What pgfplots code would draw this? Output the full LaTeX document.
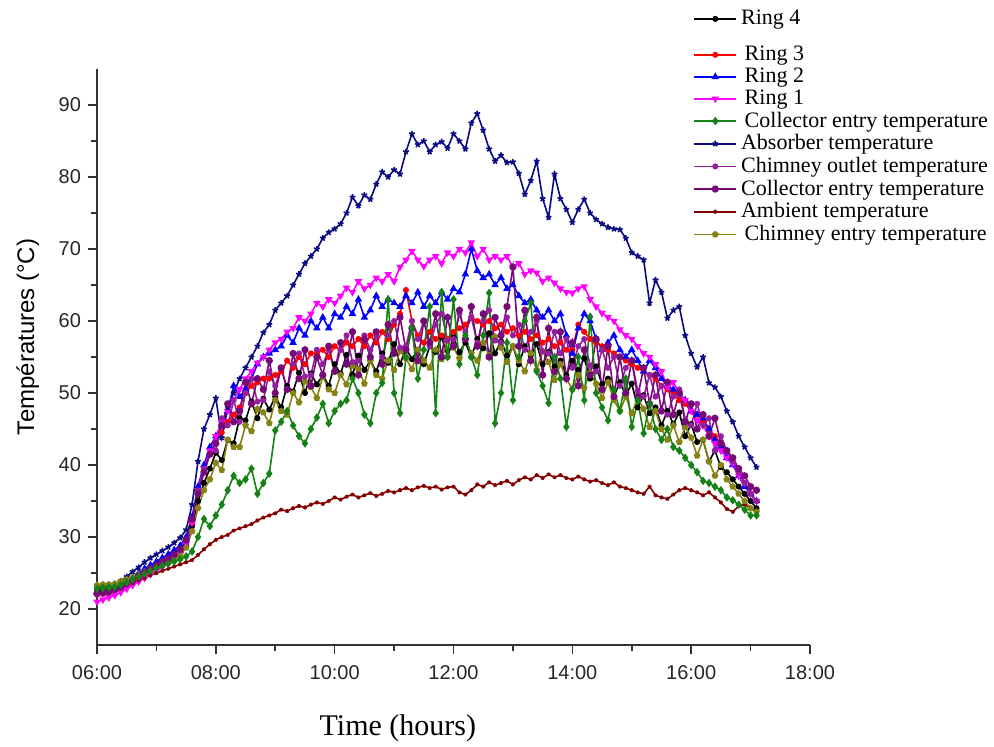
\documentclass[border=0pt]{standalone}
\usepackage{pgfplots}
\pgfplotsset{compat=1.18}
\usepackage{pgfplotstable}
\usepackage{fontspec}
\setmainfont{Liberation Serif}
\setsansfont{Liberation Sans}
\definecolor{cgreen}{RGB}{20,130,20}
\definecolor{cnavy}{RGB}{10,10,130}
\definecolor{cpurp}{RGB}{150,30,160}
\definecolor{cpurp2}{RGB}{120,10,120}
\definecolor{camb}{RGB}{130,0,0}
\definecolor{colive}{RGB}{135,130,20}
\definecolor{cmag}{RGB}{255,0,255}
\pgfplotstableread{
t R4 R3 R2 R1 CE AB CO CEB AM CH
6.0 22.5 22.0 22.3 21.0 22.8 23.0 22.0 22.2 22.3 23.3
6.1 22.6 22.1 22.4 21.3 22.9 23.1 22.1 22.3 22.4 23.4
6.2 22.7 22.2 22.6 21.6 23.0 23.2 22.3 22.4 22.5 23.4
6.3 22.9 22.5 22.9 21.9 23.1 23.5 22.6 22.7 22.7 23.5
6.4 23.2 22.9 23.3 22.3 23.4 23.9 23.0 23.0 23.0 23.8
6.5 23.6 23.3 23.8 22.8 23.7 24.5 23.5 23.5 23.3 24.1
6.6 24.1 23.8 24.4 23.3 24.1 25.2 24.0 24.0 23.6 24.4
6.7 24.6 24.3 25.0 23.8 24.5 25.8 24.6 24.6 24.0 24.8
6.8 25.1 24.8 25.6 24.3 24.9 26.5 25.1 25.1 24.3 25.2
6.9 25.5 25.3 26.1 24.8 25.3 27.1 25.6 25.6 24.7 25.6
7.0 26.0 25.8 26.6 25.3 25.7 27.6 26.1 26.1 25.0 26.0
7.1 26.4 26.2 27.1 25.8 26.0 28.1 26.5 26.6 25.3 26.3
7.2 26.8 26.7 27.6 26.3 26.3 28.6 27.0 27.0 25.6 26.6
7.3 27.3 27.3 28.2 26.9 26.6 29.2 27.5 27.6 25.9 27.0
7.4 27.9 28.0 28.8 27.6 26.9 29.9 28.2 28.3 26.2 27.5
7.5 29.0 29.3 30.0 29.0 27.3 31.0 29.5 29.6 26.5 28.5
7.6 31.5 32.0 32.8 32.0 28.0 34.5 32.5 32.5 26.8 30.8
7.7 35.0 36.0 37.0 36.5 30.0 40.5 36.5 36.0 27.5 34.0
7.8 37.5 39.0 40.0 39.5 32.5 45.0 39.5 39.0 28.3 36.5
7.9 39.5 41.5 42.5 42.0 31.5 47.0 41.5 41.5 29.0 38.0
8.0 41.7 43.0 44.0 44.0 33.0 49.3 42.0 43.0 29.6 40.3
8.1 40.7 44.5 45.5 46.0 34.5 43.8 46.5 45.5 30.0 39.3
8.2 43.5 46.0 47.5 47.5 36.5 48.0 45.5 48.5 30.3 43.5
8.3 43.0 47.0 51.0 49.0 38.5 50.0 49.0 46.0 30.9 42.5
8.4 46.5 48.0 49.5 50.5 37.5 52.0 46.0 47.5 31.2 42.5
8.5 46.2 50.0 50.5 52.0 38.0 53.5 50.0 51.5 31.5 45.5
8.6 48.8 51.0 52.0 53.0 39.5 55.0 52.0 48.5 31.8 44.7
8.7 46.5 51.5 54.0 54.2 36.0 56.5 48.8 52.0 32.3 47.8
8.8 49.2 52.0 55.0 55.0 37.5 58.4 49.0 50.5 32.7 47.3
8.9 47.7 52.0 55.5 56.0 38.8 59.5 53.0 54.5 33.0 45.8
9.0 49.5 52.5 56.0 57.0 44.8 61.5 51.0 50.0 33.3 49.0
9.1 48.0 53.0 56.5 57.5 46.0 62.5 53.5 53.5 33.8 47.5
9.2 51.0 54.5 58.0 58.5 47.5 63.5 50.5 50.5 33.6 47.0
9.3 50.2 53.5 57.0 59.0 45.5 65.0 54.0 55.5 34.0 50.0
9.4 52.8 55.0 59.0 60.5 44.0 66.5 55.5 52.0 34.3 48.7
9.5 50.0 54.0 58.0 60.0 43.0 68.0 52.3 56.0 34.1 51.6
9.6 52.7 55.5 60.0 61.0 45.0 69.0 52.5 51.0 34.5 50.8
9.7 51.2 55.5 59.0 62.5 46.6 70.0 56.0 55.0 34.8 49.3
9.8 52.5 56.0 60.5 62.0 48.5 71.5 54.0 52.5 34.6 52.3
9.9 51.0 55.0 59.0 63.0 45.8 72.3 56.0 56.5 35.0 50.5
10.0 54.0 56.5 61.0 62.5 47.5 72.8 53.0 53.0 35.5 50.0
10.1 52.7 56.0 60.5 63.5 48.5 73.5 56.0 57.0 35.2 52.5
10.2 55.3 57.0 62.0 64.6 49.0 75.0 58.0 54.0 35.6 51.2
10.3 52.5 56.5 61.0 64.0 52.0 77.2 54.3 58.5 35.9 53.8
10.4 55.2 57.5 63.0 65.5 50.0 76.0 54.5 52.5 35.5 53.3
10.5 53.2 56.5 60.5 64.5 47.0 77.5 58.0 57.5 35.8 51.3
10.6 54.5 58.0 61.5 65.0 45.8 76.9 56.0 55.0 36.1 54.5
10.7 53.0 57.0 63.5 66.0 50.0 79.0 58.0 58.5 35.7 52.5
10.8 55.5 58.5 62.0 65.5 51.4 80.7 55.0 54.0 36.0 52.0
10.9 54.2 57.5 63.0 66.5 63.0 80.0 58.0 59.5 36.4 54.5
11.0 56.8 59.5 62.5 65.5 50.0 81.0 60.0 55.5 36.2 53.2
11.1 54.0 61.0 62.0 67.5 47.2 80.4 56.3 60.5 36.5 55.8
11.2 56.2 64.3 63.5 68.5 55.0 83.5 56.5 56.0 36.8 54.8
11.3 54.7 60.0 62.5 69.7 59.0 86.0 60.0 59.0 36.5 53.3
11.4 56.0 58.0 64.0 68.5 52.0 84.5 57.5 54.5 36.9 56.0
11.5 54.0 57.0 62.0 67.6 56.0 85.0 60.0 60.0 37.1 54.5
11.6 56.5 58.5 63.5 68.5 62.0 83.5 56.5 57.0 36.8 53.5
11.7 55.7 57.5 62.5 69.0 47.2 84.5 59.5 61.0 37.0 56.0
11.8 57.8 58.0 64.0 68.0 64.0 84.9 61.0 55.0 36.6 54.7
11.9 55.0 57.5 63.0 69.5 55.0 84.0 57.3 60.5 36.9 57.3
12.0 57.7 58.5 64.5 69.0 63.0 86.0 57.5 56.5 37.0 56.3
12.1 55.7 59.0 64.0 70.0 54.0 85.0 61.0 61.5 36.2 54.8
12.2 57.0 59.5 66.5 69.5 58.0 83.9 58.5 57.5 35.9 57.5
12.3 55.0 60.5 70.0 70.9 55.0 87.5 60.5 62.0 36.5 55.5
12.4 57.5 60.0 67.0 69.0 52.5 88.8 57.0 56.5 37.3 54.5
12.5 56.2 59.5 66.0 70.0 58.0 86.5 60.0 61.0 37.0 57.0
12.6 58.3 60.0 66.5 68.5 63.9 83.9 61.5 55.0 37.6 55.2
12.7 55.5 59.0 65.0 69.0 45.8 82.2 57.3 60.5 37.2 57.8
12.8 57.2 59.5 66.0 68.5 50.0 83.0 57.0 58.0 37.5 56.3
12.9 55.2 58.5 64.5 69.0 57.0 82.0 60.5 62.0 37.8 54.3
13.0 56.5 59.0 65.0 67.5 49.0 82.1 58.0 67.5 37.3 56.5
13.1 54.0 58.0 63.5 68.0 55.0 80.5 59.5 56.5 37.9 54.5
13.2 56.5 58.5 62.5 66.5 60.0 77.6 56.0 61.5 38.3 53.0
13.3 55.2 57.5 63.0 67.0 62.5 79.5 58.5 54.5 38.0 55.5
13.4 56.8 58.0 61.5 66.7 53.0 82.2 60.0 60.5 38.6 53.2
13.5 54.0 57.0 60.5 65.5 51.0 77.0 55.8 52.5 38.2 55.8
13.6 55.7 57.5 61.5 66.0 48.6 74.4 55.5 59.0 38.7 54.3
13.7 53.7 56.5 60.0 65.3 55.0 80.4 58.5 53.0 38.3 51.8
13.8 54.5 57.0 61.0 64.5 52.0 77.0 55.5 58.5 38.6 54.0
13.9 52.5 56.0 58.0 64.0 45.3 75.5 57.5 52.0 38.2 52.0
14.0 54.5 56.0 55.5 63.9 50.5 73.7 53.5 57.0 38.0 50.5
14.1 53.2 59.5 59.0 64.5 55.0 75.5 56.5 51.0 38.4 52.5
14.2 54.8 58.5 61.0 64.8 49.0 76.9 57.5 56.0 38.0 50.7
14.3 52.0 57.5 60.0 63.0 60.6 75.0 53.8 52.5 37.7 52.8
14.4 53.7 57.0 57.5 62.0 50.0 74.1 53.0 57.5 37.9 51.3
14.5 51.2 56.5 56.0 61.1 48.0 73.5 56.0 50.5 37.5 49.3
14.6 52.0 56.0 57.0 60.5 46.2 73.0 53.5 56.5 37.2 51.5
14.7 49.5 55.5 58.0 60.0 50.5 72.8 55.0 49.5 37.6 49.0
14.8 51.5 55.0 56.0 58.8 47.5 72.7 51.0 55.0 37.0 47.5
14.9 49.7 54.5 55.0 58.0 52.0 71.5 53.5 50.0 36.8 49.5
15.0 51.3 54.0 56.0 57.5 45.3 69.5 54.5 54.5 36.5 47.2
15.1 48.0 53.5 54.5 56.5 49.0 69.0 50.3 49.5 36.2 49.3
15.2 49.7 53.0 53.0 55.5 44.4 68.5 49.5 53.5 36.0 47.8
15.3 47.2 52.5 54.5 55.0 48.5 62.5 52.5 48.5 37.0 45.3
15.4 48.0 52.0 53.5 54.0 45.0 65.7 49.5 52.5 35.8 47.5
15.5 45.5 51.0 52.0 53.0 43.5 64.0 51.0 47.5 35.5 45.0
15.6 47.5 50.5 51.0 50.8 45.0 60.4 47.0 51.5 35.3 43.5
15.7 45.7 50.0 50.5 51.5 42.5 61.5 49.5 47.0 35.9 45.5
15.8 47.3 49.0 50.0 50.0 42.0 62.0 50.5 50.0 36.5 43.2
15.9 44.0 48.5 49.0 49.0 41.0 58.0 46.3 46.0 36.8 45.3
16.0 45.7 47.5 47.5 47.5 40.0 55.5 45.5 48.5 36.5 43.8
16.1 43.2 47.0 47.0 46.2 39.0 53.6 48.5 45.0 36.2 41.3
16.2 43.5 46.0 46.5 45.5 37.8 55.0 45.5 47.0 35.8 43.5
16.3 40.5 45.0 45.0 44.0 37.5 51.4 46.5 44.0 36.2 40.5
16.4 42.0 44.0 43.5 43.0 37.0 50.8 42.0 46.5 35.5 38.5
16.5 39.7 43.0 42.5 42.0 36.5 49.5 44.0 43.0 34.8 40.0
16.6 39.0 42.0 41.0 41.0 35.5 47.5 42.0 42.0 33.9 38.0
16.7 38.0 40.5 40.0 40.2 35.1 46.0 40.5 41.0 33.5 37.0
16.8 37.0 39.0 38.5 38.5 34.5 44.0 39.0 39.5 34.3 36.0
16.9 36.0 37.5 37.0 37.5 33.8 42.5 37.5 38.5 34.5 35.0
17.0 35.0 36.0 36.0 36.0 33.0 41.0 36.0 37.0 34.0 34.0
17.1 34.0 35.0 35.0 35.0 33.0 39.7 35.0 36.5 33.5 33.5
}\data
\begin{document}
\begin{tikzpicture}
\useasboundingbox (0,0) rectangle (497pt,373pt);
\begin{axis}[
  at={(48.5pt,50.5pt)}, anchor=south west,
  scale only axis, width=356.5pt, height=288pt,
  xmin=6, xmax=18, ymin=15, ymax=95,
  axis lines*=left,
  axis line style={line width=0.9pt, black!80},
  tick align=outside,
  major tick length=4.5pt, minor tick length=3pt,
  every tick/.style={black!80, line width=0.8pt},
  xtick={6,8,10,12,14,16,18},
  xticklabels={06:00,08:00,10:00,12:00,14:00,16:00,18:00},
  minor x tick num=1,
  ytick={20,30,...,90}, minor y tick num=1,
  /pgf/number format/assume math mode=true,
  tick label style={font=\sffamily\fontsize{10}{12}\selectfont, text=black!85},
  xticklabel style={yshift=-2pt},
  ylabel={Températures (°C)},
  ylabel style={font=\sffamily\fontsize{12}{14}\selectfont, at={(axis description cs:-0.097,0.535)}, anchor=center},
  xlabel={Time (hours)},
  xlabel style={font=\rmfamily\fontsize{15}{17}\selectfont, at={(axis description cs:0.422,-0.144)}, anchor=center},
  clip=false,
  legend style={at={(rel axis cs:0.836,1.11)}, anchor=north west, draw=none, fill=none,
    font=\rmfamily\fontsize{11}{12}\selectfont, row sep=-1.8pt, inner sep=0pt},
  legend cell align=left,
  legend image code/.code={\draw[#1] (0pt,0pt) -- (21pt,0pt); \draw[#1, mark repeat=1, mark phase=1] plot coordinates {(10.5pt,0pt)};},
  every axis plot/.append style={line width=0.8pt, mark size=1.1pt},
]
\addplot[forget plot, black, mark=*] table[x=t, y=R4] {\data};
\addplot[forget plot, red, mark=*] table[x=t, y=R3] {\data};
\addplot[forget plot, blue, mark=triangle*, mark size=1.4pt] table[x=t, y=R2] {\data};
\addplot[forget plot, cmag, mark=triangle*, mark size=1.4pt, every mark/.append style={rotate=180}] table[x=t, y=R1] {\data};
\addplot[forget plot, cnavy, mark=star, mark size=1.5pt] table[x=t, y=AB] {\data};
\addplot[forget plot, camb, mark=star, mark size=1.0pt] table[x=t, y=AM] {\data};
\addplot[forget plot, colive, mark=pentagon*, mark size=1.3pt] table[x=t, y=CH] {\data};
\addplot[forget plot, cpurp, mark=*] table[x=t, y=CO] {\data};
\addplot[forget plot, cpurp2, mark=*, mark size=1.4pt] table[x=t, y=CEB] {\data};
\addplot[forget plot, cgreen, mark=diamond*, mark size=1.5pt] table[x=t, y=CE] {\data};
\addlegendimage{black, mark=*, legend image code/.code={\draw[black, line width=0.8pt] (0pt,0pt) -- (21pt,0pt); \fill[black] (10.5pt,0pt) circle (1.1pt); \path (0pt,-13pt) (0pt,4pt);}}
\addlegendentry{Ring 4}
\addlegendimage{red, mark=*}
\addlegendentry{\,Ring 3}
\addlegendimage{blue, mark=triangle*, mark size=1.4pt}
\addlegendentry{\,Ring 2}
\addlegendimage{cmag, mark=triangle*, mark size=1.4pt, every mark/.append style={rotate=180}}
\addlegendentry{\,Ring 1}
\addlegendimage{cgreen, mark=diamond*, mark size=1.5pt}
\addlegendentry{\,Collector entry temperature}
\addlegendimage{cnavy, mark=star, mark size=1.5pt}
\addlegendentry{Absorber temperature}
\addlegendimage{cpurp, mark=*}
\addlegendentry{Chimney outlet temperature}
\addlegendimage{cpurp2, mark=*, mark size=1.4pt}
\addlegendentry{Collector entry temperature}
\addlegendimage{camb, mark=star, mark size=1.0pt}
\addlegendentry{Ambient temperature}
\addlegendimage{colive, mark=pentagon*, mark size=1.3pt}
\addlegendentry{\,Chimney entry temperature}
\end{axis}
\end{tikzpicture}
\end{document}
